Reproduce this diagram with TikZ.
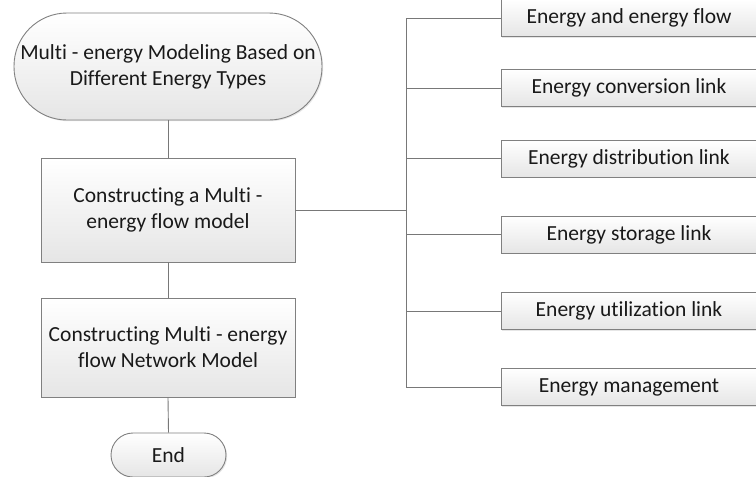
\documentclass[tikz,border=0pt]{standalone}
\usepackage{fontspec}
\setmainfont{Carlito}[Ligatures={NoCommon}]
\usetikzlibrary{shadows,calc}
\definecolor{edgegray}{RGB}{128,128,128}
\definecolor{linegray}{RGB}{120,120,120}
\tikzset{
  base/.style={draw=edgegray, line width=0.9pt, top color=white, bottom color=black!10,
    align=center, inner sep=0pt, font=\fontsize{21.5}{26}\selectfont, text=black!90,
    drop shadow={opacity=0.2, shadow xshift=1.2pt, shadow yshift=-1.2pt}},
  procbox/.style={base, rectangle},
  termbox/.style={base, rectangle, rounded corners=#1},
  itembox/.style={base, rectangle, minimum width=256pt, minimum height=37pt},
  conn/.style={draw=linegray, line width=0.9pt}
}
\begin{document}
\begin{tikzpicture}[x=1pt,y=-1pt]
\useasboundingbox (0,0) rectangle (756,477);
\node[termbox=53pt, minimum width=308pt, minimum height=107pt] (start) at (168,66.5)
  {Multi - energy Modeling Based on\\Different Energy Types};
\node[procbox, minimum width=254pt, minimum height=104pt] (m1) at (168,210)
  {Constructing a Multi -\\energy flow model};
\node[procbox, minimum width=254pt, minimum height=99pt] (m2) at (168,347.5)
  {Constructing Multi - energy\\flow Network Model};
\node[termbox=22pt, minimum width=115pt, minimum height=44pt] (end) at (168.5,455) {End};

\node[itembox] (r1) at (629,18) {Energy and energy flow};
\node[itembox] (r2) at (629,88) {Energy conversion link};
\node[itembox] (r3) at (629,158.5) {Energy distribution link};
\node[itembox] (r4) at (629,234.5) {Energy storage link};
\node[itembox] (r5) at (629,311) {Energy utilization link};
\node[itembox] (r6) at (629,387) {Energy management};

\coordinate (bustop) at (406,18);
\coordinate (busbot) at (406,387);

\draw[conn] (start.south) -- (m1.north);
\draw[conn] (m1.south) -- (m2.north);
\draw[conn] (m2.south) -- (end.north);
\draw[conn] (m1.east) -- (m1.east -| bustop);
\draw[conn] (bustop) -- (busbot);
\foreach \r in {r1,r2,r3,r4,r5,r6}
  \draw[conn] (\r.west -| bustop) -- (\r.west);
\end{tikzpicture}
\end{document}
